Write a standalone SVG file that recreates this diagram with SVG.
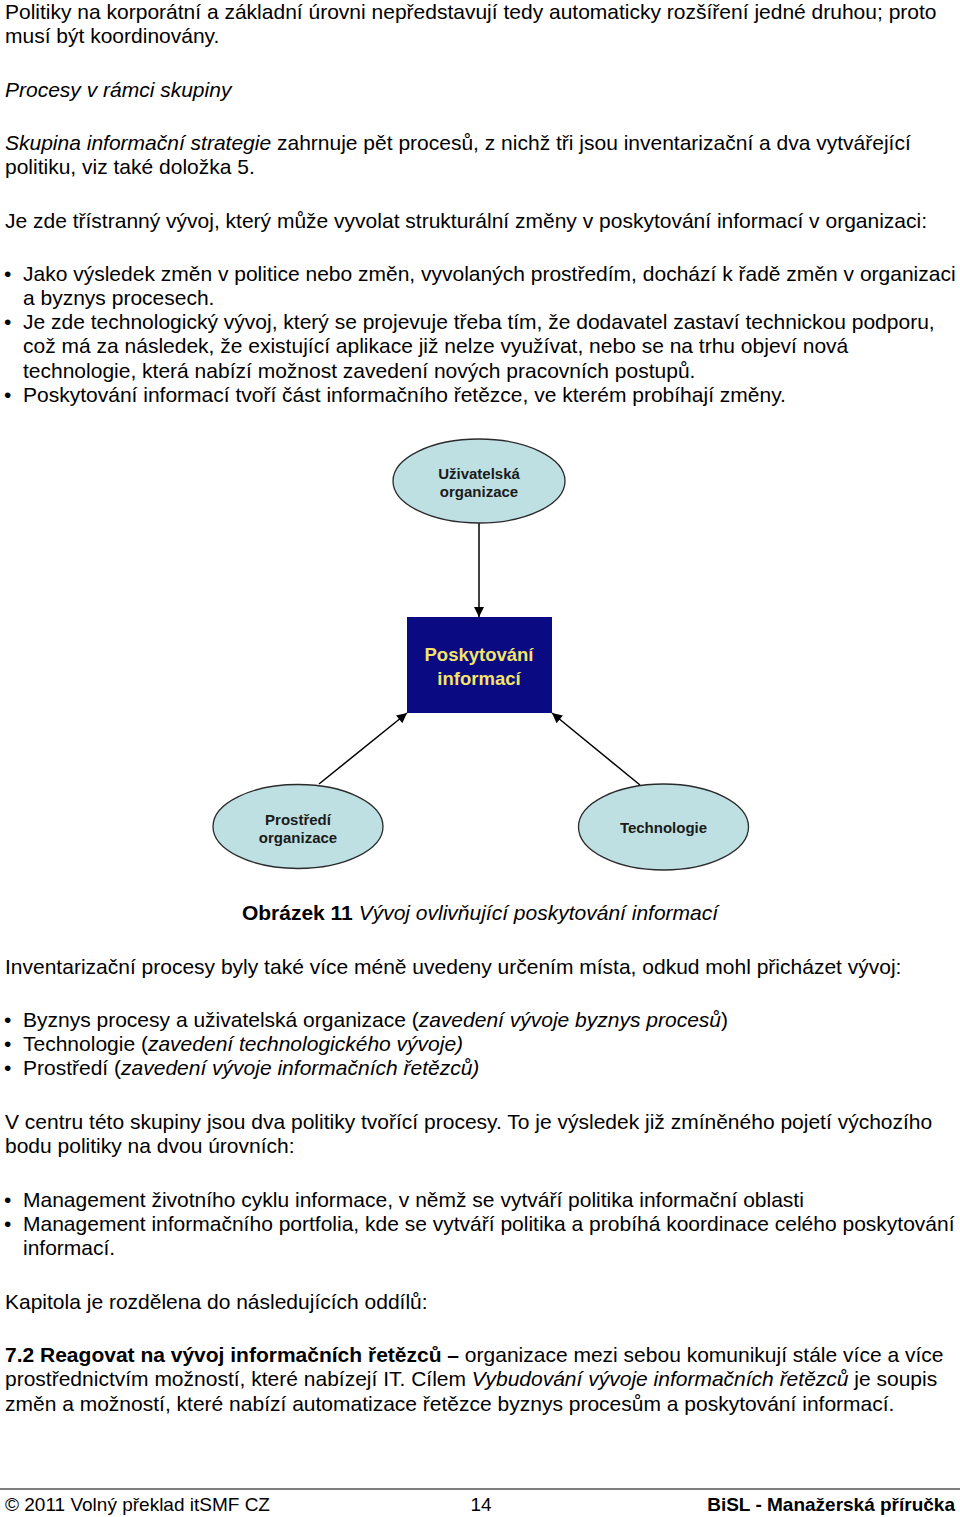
<svg xmlns="http://www.w3.org/2000/svg" width="960" height="1517" viewBox="0 0 960 1517">
<style>
  .t { font-family: "Liberation Sans", Arial, sans-serif; font-size: 21px; fill: #000; }
  .i { font-style: italic; }
  .b { font-weight: bold; }
  .ell { fill: #bfe0e3; stroke: #2a2a2a; stroke-width: 1.3; }
  .lbl { font-family: "Liberation Sans", Arial, sans-serif; font-weight: bold; font-size: 15px; fill: #1a1a1a; text-anchor: middle; }
  .blbl { font-family: "Liberation Sans", Arial, sans-serif; font-weight: bold; font-size: 18.5px; fill: #f2e46a; text-anchor: middle; }
  .conn { stroke: #000; stroke-width: 1.5; fill: none; marker-end: url(#arr); }
  .ft { font-family: "Liberation Sans", Arial, sans-serif; font-size: 19px; fill: #000; }
</style>
<defs>
  <marker id="arr" viewBox="0 0 10 10" refX="10" refY="5" markerWidth="11" markerHeight="10" orient="auto" markerUnits="userSpaceOnUse">
    <path d="M0,0 L10,5 L0,10 z" fill="#000"/>
  </marker>
</defs>
<rect width="960" height="1517" fill="#fff"/>

<g id="text-top">
  <text class="t" x="5" y="19">Politiky na korporátní a základní úrovni nepředstavují tedy automaticky rozšíření jedné druhou; proto</text>
  <text class="t" x="5" y="43">musí být koordinovány.</text>
  <text class="t i" x="5" y="97">Procesy v rámci skupiny</text>
  <text class="t" x="5" y="150"><tspan class="i">Skupina informační strategie</tspan> zahrnuje pět procesů, z nichž tři jsou inventarizační a dva vytvářející</text>
  <text class="t" x="5" y="174">politiku, viz také doložka 5.</text>
  <text class="t" x="5" y="228">Je zde třístranný vývoj, který může vyvolat strukturální změny v poskytování informací v organizaci:</text>
  <text class="t" x="4" y="281">•</text>
  <text class="t" x="23" y="281">Jako výsledek změn v politice nebo změn, vyvolaných prostředím, dochází k řadě změn v organizaci</text>
  <text class="t" x="23" y="305">a byznys procesech.</text>
  <text class="t" x="4" y="329">•</text>
  <text class="t" x="23" y="329">Je zde technologický vývoj, který se projevuje třeba tím, že dodavatel zastaví technickou podporu,</text>
  <text class="t" x="23" y="353">což má za následek, že existující aplikace již nelze využívat, nebo se na trhu objeví nová</text>
  <text class="t" x="23" y="378">technologie, která nabízí možnost zavedení nových pracovních postupů.</text>
  <text class="t" x="4" y="402">•</text>
  <text class="t" x="23" y="402">Poskytování informací tvoří část informačního řetězce, ve kterém probíhají změny.</text>
</g>

<g id="connectors">
  <line class="conn" x1="479" y1="523" x2="479" y2="617"/>
  <line class="conn" x1="319" y1="784" x2="407" y2="713"/>
  <line class="conn" x1="640" y1="785" x2="552" y2="713"/>
</g>

<g id="node-uzivatelska">
  <ellipse class="ell" cx="479" cy="481" rx="86" ry="42"/>
  <text class="lbl" x="479" y="479">Uživatelská</text>
  <text class="lbl" x="479" y="497">organizace</text>
</g>
<g id="node-poskytovani">
  <rect x="407" y="617" width="145" height="96" fill="#0a0a82"/>
  <text class="blbl" x="479" y="661">Poskytování</text>
  <text class="blbl" x="479" y="685">informací</text>
</g>
<g id="node-prostredi">
  <ellipse class="ell" cx="298" cy="826.5" rx="85" ry="42"/>
  <text class="lbl" x="298" y="825">Prostředí</text>
  <text class="lbl" x="298" y="843">organizace</text>
</g>
<g id="node-technologie">
  <ellipse class="ell" cx="663.5" cy="827" rx="85" ry="43"/>
  <text class="lbl" x="663.5" y="833">Technologie</text>
</g>

<g id="text-bottom">
  <text class="t" x="480" y="920" text-anchor="middle"><tspan class="b">Obrázek 11</tspan> <tspan class="i">Vývoj ovlivňující poskytování informací</tspan></text>
  <text class="t" x="5" y="974">Inventarizační procesy byly také více méně uvedeny určením místa, odkud mohl přicházet vývoj:</text>
  <text class="t" x="4" y="1027">•</text>
  <text class="t" x="23" y="1027">Byznys procesy a uživatelská organizace (<tspan class="i">zavedení vývoje byznys procesů</tspan>)</text>
  <text class="t" x="4" y="1051">•</text>
  <text class="t" x="23" y="1051">Technologie (<tspan class="i">zavedení technologického vývoje)</tspan></text>
  <text class="t" x="4" y="1075">•</text>
  <text class="t" x="23" y="1075">Prostředí (<tspan class="i">zavedení vývoje informačních řetězců)</tspan></text>
  <text class="t" x="5" y="1129">V centru této skupiny jsou dva politiky tvořící procesy. To je výsledek již zmíněného pojetí výchozího</text>
  <text class="t" x="5" y="1153">bodu politiky na dvou úrovních:</text>
  <text class="t" x="4" y="1207">•</text>
  <text class="t" x="23" y="1207">Management životního cyklu informace, v němž se vytváří politika informační oblasti</text>
  <text class="t" x="4" y="1231">•</text>
  <text class="t" x="23" y="1231">Management informačního portfolia, kde se vytváří politika a probíhá koordinace celého poskytování</text>
  <text class="t" x="23" y="1255">informací.</text>
  <text class="t" x="5" y="1309">Kapitola je rozdělena do následujících oddílů:</text>
  <text class="t" x="5" y="1362"><tspan class="b">7.2 Reagovat na vývoj informačních řetězců –</tspan> organizace mezi sebou komunikují stále více a více</text>
  <text class="t" x="5" y="1386">prostřednictvím možností, které nabízejí IT. Cílem <tspan class="i">Vybudování vývoje informačních řetězců</tspan> je soupis</text>
  <text class="t" x="5" y="1411">změn a možností, které nabízí automatizace řetězce byznys procesům a poskytování informací.</text>
</g>

<g id="footer">
  <line x1="0" y1="1489" x2="960" y2="1489" stroke="#000" stroke-width="1.2"/>
  <text class="ft" x="5" y="1511">© 2011 Volný překlad itSMF CZ</text>
  <text class="ft" x="481" y="1511" text-anchor="middle">14</text>
  <text class="ft b" x="955" y="1511" text-anchor="end">BiSL - Manažerská příručka</text>
</g>
</svg>
